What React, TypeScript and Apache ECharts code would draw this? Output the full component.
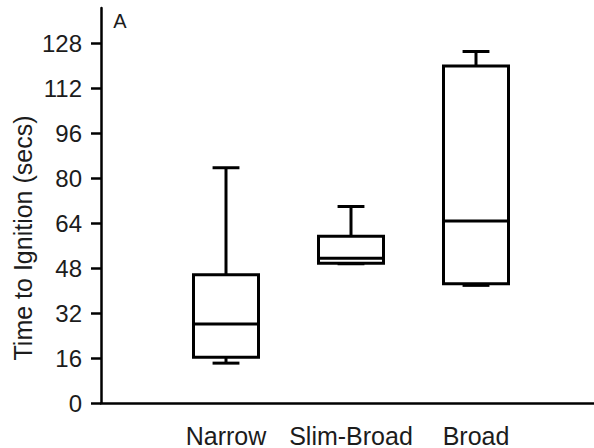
import React, { useEffect, useRef } from "react";
import * as echarts from "echarts";

const categories = ["Narrow", "Slim-Broad", "Broad"];
// [min, Q1, median, Q3, max]
const whiskerLow = [14.2, 49.6, 41.9];
const q1Values = [16.3, 49.8, 42.5];
const medianValues = [28.1, 51.6, 64.8];
const q3Values = [45.7, 59.4, 120.0];
const whiskerHigh = [83.8, 70.0, 125.2];
const yTicks = [0, 16, 32, 48, 64, 80, 96, 112, 128];
const yTitle = "Time to Ignition (secs)";
const panelLabel = "A";

const FONT = "'Liberation Sans', Arial, Helvetica, sans-serif";
const TXT = "#1c1c1c";

export default function App() {
  const ref = useRef<HTMLDivElement>(null);
  useEffect(() => {
    document.body.style.margin = "0";
    const chart = echarts.init(ref.current!, null, { renderer: "svg" });
    const data = categories.map((c, i) => [
      i + 1,
      whiskerLow[i],
      q1Values[i],
      medianValues[i],
      q3Values[i],
      whiskerHigh[i],
    ]);
    const lineStyle = { stroke: "#000", lineWidth: 3, fill: "none" };
    chart.setOption({
      animation: false,
      backgroundColor: "#fff",
      grid: { left: 101, top: 8, bottom: 41, right: 0, containLabel: false },
      xAxis: {
        type: "value",
        min: 0,
        max: 3.944,
        splitLine: { show: false },
        axisLine: { show: true, lineStyle: { color: "#000", width: 2.5 } },
        axisTick: { show: false },
        axisLabel: {
          customValues: categories.map((_, i) => i + 1),
          formatter: (v: number) => categories[Math.round(v) - 1] ?? "",
          fontSize: 25,
          fontFamily: FONT,
          color: TXT,
          margin: 20,
        },
      },
      yAxis: {
        type: "value",
        min: 0,
        max: 140.7,
        splitLine: { show: false },
        axisLine: { show: true, lineStyle: { color: "#000", width: 2.5 } },
        axisTick: {
          show: true,
          length: 10,
          customValues: yTicks,
          lineStyle: { color: "#000", width: 2.5 },
        },
        axisLabel: {
          customValues: yTicks,
          fontSize: 24,
          fontFamily: FONT,
          color: TXT,
          margin: 19,
        },
      },
      graphic: [
        {
          type: "text",
          x: 23,
          y: 238,
          rotation: Math.PI / 2,
          style: {
            text: yTitle,
            fontSize: 25,
            fontFamily: FONT,
            fill: TXT,
            textAlign: "center",
            textVerticalAlign: "middle",
          },
        },
        {
          type: "text",
          x: 120,
          y: 21,
          style: {
            text: panelLabel,
            fontSize: 20,
            fontFamily: FONT,
            fill: TXT,
            textAlign: "center",
            textVerticalAlign: "middle",
          },
        },
      ],
      series: [
        {
          type: "custom",
          data,
          clip: false,
          renderItem: (params: any, api: any) => {
            const x = api.value(0);
            const lo = api.coord([x, api.value(1)]);
            const q1 = api.coord([x, api.value(2)]);
            const med = api.coord([x, api.value(3)]);
            const q3 = api.coord([x, api.value(4)]);
            const hi = api.coord([x, api.value(5)]);
            const halfBox = api.size([0.52, 0])[0] / 2;
            const halfCap = api.size([0.215, 0])[0] / 2;
            const cx = q1[0];
            return {
              type: "group",
              children: [
                { type: "line", shape: { x1: cx, y1: hi[1], x2: cx, y2: q3[1] }, style: lineStyle },
                { type: "line", shape: { x1: cx, y1: lo[1], x2: cx, y2: q1[1] }, style: lineStyle },
                { type: "line", shape: { x1: cx - halfCap, y1: hi[1], x2: cx + halfCap, y2: hi[1] }, style: lineStyle },
                { type: "line", shape: { x1: cx - halfCap, y1: lo[1], x2: cx + halfCap, y2: lo[1] }, style: lineStyle },
                {
                  type: "rect",
                  shape: { x: cx - halfBox, y: q3[1], width: halfBox * 2, height: q1[1] - q3[1] },
                  style: { stroke: "#000", lineWidth: 3, fill: "#fff" },
                },
                { type: "line", shape: { x1: cx - halfBox, y1: med[1], x2: cx + halfBox, y2: med[1] }, style: lineStyle },
              ],
            };
          },
        },
      ],
    });
    return () => chart.dispose();
  }, []);
  return (
    <div
      ref={ref}
      style={{ width: 594, height: 448, position: "absolute", left: 0, top: 0 }}
    />
  );
}
